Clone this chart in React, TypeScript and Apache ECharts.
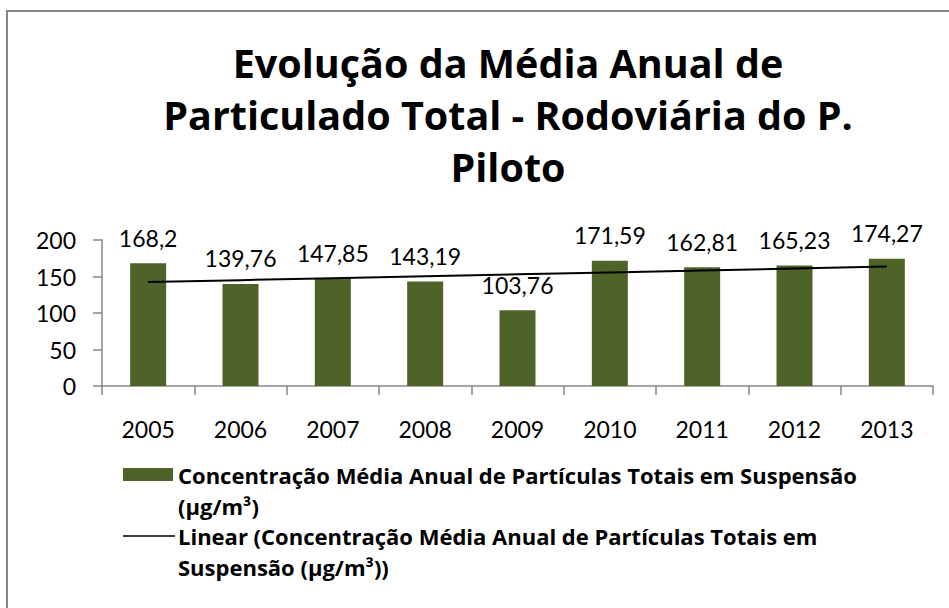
import React, { useEffect, useRef } from "react";
import * as echarts from "echarts";

const categories = ["2005", "2006", "2007", "2008", "2009", "2010", "2011", "2012", "2013"];
const concentration = [168.2, 139.76, 147.85, 143.19, 103.76, 171.59, 162.81, 165.23, 174.27];
const concentrationLabels = ["168,2", "139,76", "147,85", "143,19", "103,76", "171,59", "162,81", "165,23", "174,27"];
const yTicks = [0, 50, 100, 150, 200];

const titleText = "Evolução da Média Anual de\nParticulado Total - Rodoviária do P.\nPiloto";
const seriesName = "Concentração Média Anual de Partículas Totais em Suspensão (µg/m³)";
const trendName = "Linear (Concentração Média Anual de Partículas Totais em Suspensão (µg/m³))";
const legendBarText = "Concentração Média Anual de Partículas Totais em Suspensão\n(µg/m³)";
const legendLineText = "Linear (Concentração Média Anual de Partículas Totais em\nSuspensão (µg/m³))";

function linearTrend(values: number[]): number[] {
  const n = values.length;
  const xs = values.map((_, i) => i + 1);
  const mx = xs.reduce((a, b) => a + b, 0) / n;
  const my = values.reduce((a, b) => a + b, 0) / n;
  let sxy = 0;
  let sxx = 0;
  for (let i = 0; i < n; i++) {
    sxy += (xs[i] - mx) * (values[i] - my);
    sxx += (xs[i] - mx) * (xs[i] - mx);
  }
  const slope = sxy / sxx;
  const intercept = my - slope * mx;
  return xs.map((x) => +(intercept + slope * x).toFixed(2));
}

const NUM_FONT = "Lato, 'Open Sans', sans-serif";
const TXT_FONT = "'Open Sans', Lato, sans-serif";

export default function App() {
  const ref = useRef<HTMLDivElement>(null);
  useEffect(() => {
    if (!ref.current) return;
    const chart = echarts.init(ref.current, null, { renderer: "svg" });
    const trend = linearTrend(concentration);
    chart.setOption({
      animation: false,
      backgroundColor: "#ffffff",
      textStyle: { fontFamily: NUM_FONT },
      title: {
        text: titleText,
        left: 503,
        top: 32,
        textAlign: "center",
        textStyle: {
          fontFamily: TXT_FONT,
          fontSize: 39.5,
          fontWeight: "bold",
          color: "#000000",
          lineHeight: 52,
        },
      },
      grid: { left: 102, right: 16, top: 240, bottom: 222, containLabel: false },
      xAxis: {
        type: "category",
        data: categories,
        axisLine: { lineStyle: { color: "#868686", width: 1.5 } },
        axisTick: { show: true, length: 9, lineStyle: { color: "#868686", width: 1.5 } },
        axisLabel: { fontSize: 23, color: "#000000", margin: 31, fontFamily: NUM_FONT },
      },
      yAxis: {
        type: "value",
        min: 0,
        max: 200,
        interval: 50,
        axisLine: { show: true, lineStyle: { color: "#868686", width: 1.5 } },
        axisTick: { show: true, length: 9, lineStyle: { color: "#868686", width: 1.5 } },
        splitLine: { show: false },
        axisLabel: {
          fontSize: 23,
          color: "#000000",
          margin: 26,
          fontFamily: NUM_FONT,
          formatter: (v: number) => (yTicks.includes(v) ? String(v) : ""),
        },
      },
      series: [
        {
          name: seriesName,
          type: "bar",
          data: concentration,
          barWidth: 36,
          itemStyle: { color: "#4F6228" },
          label: {
            show: true,
            position: "top",
            distance: 14,
            fontSize: 23,
            color: "#000000",
            fontFamily: NUM_FONT,
            formatter: (p: any) => concentrationLabels[p.dataIndex],
          },
          z: 2,
        },
        {
          name: trendName,
          type: "line",
          data: trend,
          symbol: "none",
          lineStyle: { color: "#000000", width: 2 },
          z: 3,
        },
      ],
      graphic: [
        {
          type: "rect",
          shape: { x: 7, y: 11, width: 960, height: 620 },
          style: { fill: "none", stroke: "#868686", lineWidth: 2 },
          silent: true,
        },
        {
          type: "rect",
          shape: { x: 123, y: 468, width: 50, height: 13 },
          style: { fill: "#4F6228" },
        },
        {
          type: "text",
          x: 178,
          y: 459,
          style: {
            text: legendBarText,
            font: `bold 22px ${TXT_FONT}`,
            fill: "#000000",
            lineHeight: 31,
            textVerticalAlign: "top",
          },
        },
        {
          type: "line",
          shape: { x1: 123, y1: 536, x2: 175, y2: 536 },
          style: { stroke: "#000000", lineWidth: 1.5 },
        },
        {
          type: "text",
          x: 178,
          y: 520,
          style: {
            text: legendLineText,
            font: `bold 22px ${TXT_FONT}`,
            fill: "#000000",
            lineHeight: 31,
            textVerticalAlign: "top",
          },
        },
      ],
    });
    return () => chart.dispose();
  }, []);
  return (
    <div
      ref={ref}
      style={{ position: "fixed", left: 0, top: 0, width: 949, height: 608 }}
    />
  );
}
